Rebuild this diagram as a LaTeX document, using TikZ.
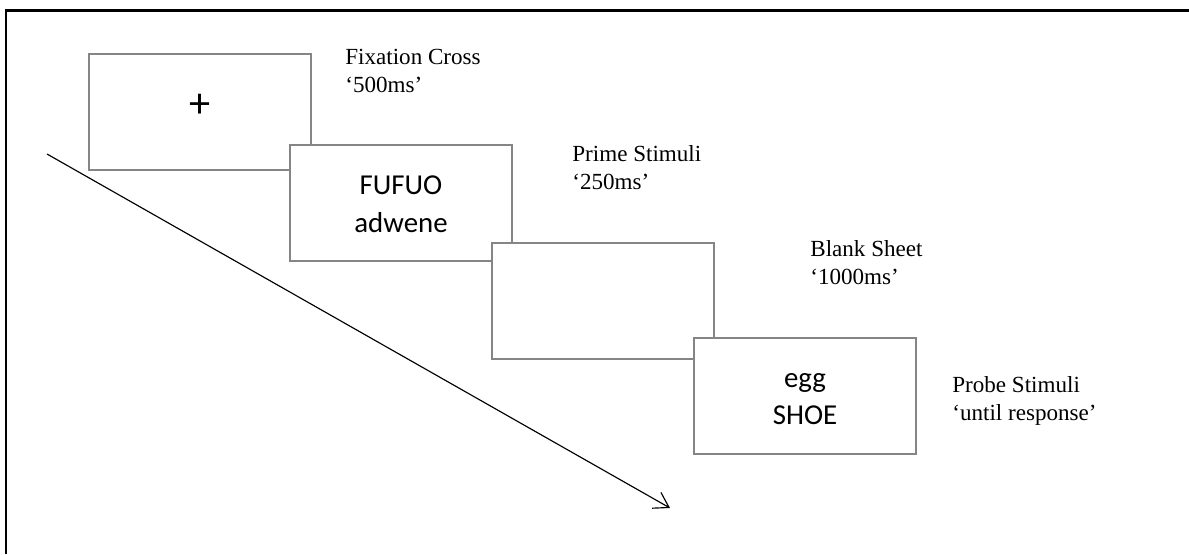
\documentclass[tikz,border=0pt]{standalone}
\usepackage{fontspec}
\setmainfont{Liberation Serif}
\newfontfamily\boxfont{Carlito}
\usepackage{tikz}
\usetikzlibrary{arrows.meta,positioning}

\begin{document}
\begin{tikzpicture}[
  x=0.52pt, y=-0.52pt,
  slide/.style  = {rectangle, draw=black!48, line width=1pt, fill=white,
                   minimum width=115pt, minimum height=60pt, inner sep=0pt},
  stim/.style   = {font=\boxfont\fontsize{15}{19.5}\selectfont, align=center},
  timing/.style = {font=\fontsize{12}{14.5}\selectfont, align=left,
                   anchor=base west, inner sep=0pt},
  timearrow/.style = {-{Straight Barb[length=7.5pt,width=9.4pt]}, line width=0.6pt, black},
  frame/.style  = {line width=1.5pt, black}
]
\useasboundingbox (0,0) rectangle (1189,554);

%% ─── Page frame (top and left edges only) ───────────────────────
\draw[frame] (6,554) -- (6,10.5) -- (1189,10.5);

%% ─── Time axis ──────────────────────────────────────────────────
\coordinate (tstart) at (47,154);
\coordinate (tend)   at (670,508);
\draw[timearrow] (tstart) -- (tend);

%% ─── Screens (each drawn over the previous one) ─────────────────
\node[slide] (fix)   at (200,112) {};
\node[stim, font=\boxfont\fontsize{22}{24}\selectfont] (fixtext) at (200,106) {+};

\node[slide] (prime) at (401,203) {};
\node[stim] (primetext) at (401,204) {FUFUO\\adwene};

\node[slide] (blank) at (603,301) {};

\node[slide] (probe) at (805,396) {};
\node[stim] (probetext) at (805,399) {egg\\SHOE};

%% ─── Timing labels (anchored on the last line) ──────────────────
\node[timing] (fixlab)   at (345,92)  {Fixation Cross\\`500ms'};
\node[timing] (primelab) at (572,189) {Prime Stimuli\\`250ms'};
\node[timing] (blanklab) at (810,284) {Blank Sheet\\`1000ms'};
\node[timing] (probelab) at (952,420) {Probe Stimuli\\`until response'};

\end{tikzpicture}
\end{document}
